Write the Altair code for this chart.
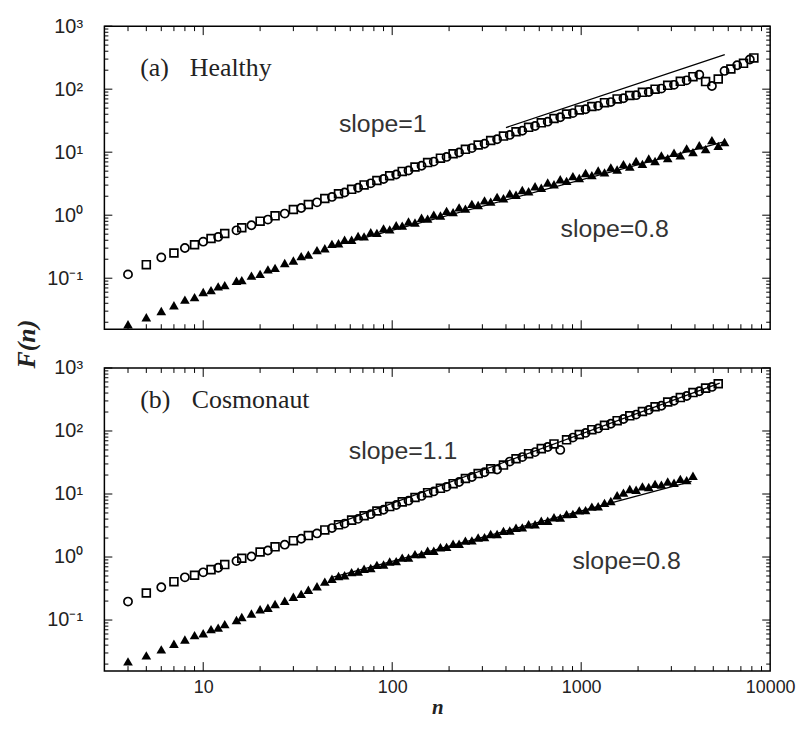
import altair as alt
import pandas as pd

# ---------------- data ----------------
n_grid = [4, 5, 6, 7, 8, 9, 10, 11, 12, 13,
          15, 16, 18, 20, 22, 24, 27, 30, 33, 36,
          40, 44, 48, 52, 56, 61, 66, 71, 77, 83,
          90, 97, 105, 113, 122, 132, 143, 154, 166, 180,
          194, 210, 226, 244, 264, 285, 308, 332, 359, 388,
          419, 452, 488, 527, 570, 615, 665, 718, 775, 837,
          904, 977, 1055, 1139, 1230, 1329, 1435, 1550, 1674, 1808,
          1953, 2109, 2278, 2460, 2657, 2870, 3099, 3347, 3615, 3904,
          4216, 4554, 4918, 5312, 5736, 6195, 6691, 7226, 7804, 8200]

healthy_open = [0.115, 0.164, 0.214, 0.251, 0.302, 0.339, 0.380, 0.427, 0.452, 0.513,
                0.575, 0.631, 0.692, 0.804, 0.851, 0.977, 1.06, 1.23, 1.30, 1.48,
                1.60, 1.84, 1.95, 2.19, 2.29, 2.57, 2.72, 3.02, 3.20, 3.55,
                3.76, 4.22, 4.42, 4.95, 5.13, 5.82, 6.10, 6.84, 7.08, 8.04,
                8.41, 9.44, 9.89, 11.1, 11.6, 13.0, 13.6, 15.3, 16.0, 18.0,
                18.8, 21.1, 21.9, 24.8, 26.0, 29.2, 30.5, 34.3, 35.9, 40.3,
                41.7, 46.8, 47.9, 53.1, 54.3, 61.0, 62.4, 70.0, 71.6, 79.4,
                80.4, 89.1, 90.2, 100, 102, 115, 117, 133, 138, 158,
                170, 132, 112, 145, 195, 209, 240, 257, 295, 313]

healthy_filled = [0.0186, 0.0240, 0.0302, 0.0372, 0.0457, 0.0501, 0.0603, 0.0646, 0.0741, 0.0776,
                  0.0912, 0.0933, 0.110, 0.117, 0.138, 0.146, 0.174, 0.191, 0.224, 0.237,
                  0.279, 0.299, 0.351, 0.359, 0.407, 0.407, 0.468, 0.462, 0.537, 0.525,
                  0.617, 0.596, 0.692, 0.684, 0.794, 0.767, 0.912, 0.881, 1.02, 0.989,
                  1.17, 1.12, 1.33, 1.27, 1.51, 1.45, 1.72, 1.64, 1.95, 1.86,
                  2.21, 2.11, 2.51, 2.40, 2.88, 2.72, 3.31, 3.09, 3.72, 3.51,
                  4.17, 3.89, 4.68, 4.32, 5.13, 4.79, 5.75, 5.31, 6.46, 5.89,
                  7.24, 6.53, 7.94, 7.24, 8.91, 8.04, 9.77, 8.91, 11.5, 10.0,
                  12.9, 11.2, 15.5, 12.6, 14.5]

cosmo_open = [0.196, 0.269, 0.331, 0.406, 0.476, 0.513, 0.571, 0.631, 0.676, 0.759,
              0.861, 0.955, 1.02, 1.20, 1.27, 1.45, 1.57, 1.82, 1.95, 2.19,
              2.37, 2.69, 2.88, 3.24, 3.39, 3.85, 4.03, 4.52, 4.79, 5.37,
              5.62, 6.31, 6.68, 7.50, 7.85, 8.81, 9.33, 10.5, 11.0, 12.3,
              13.0, 14.6, 15.5, 17.6, 18.6, 21.1, 22.1, 25.1, 24.5, 28.8,
              32.7, 36.3, 38.5, 43.7, 46.2, 52.5, 55.6, 62.4, 50.1, 72.4,
              78.5, 88.1, 93.3, 105, 110, 123, 130, 146, 155, 174,
              182, 204, 216, 243, 251, 288, 302, 339, 359, 407,
              427, 479, 501, 562]

cosmo_filled = [0.0221, 0.0275, 0.0342, 0.0421, 0.0492, 0.0575, 0.0617, 0.0716, 0.0759, 0.0861,
                0.100, 0.112, 0.127, 0.148, 0.157, 0.180, 0.202, 0.234, 0.260, 0.302,
                0.343, 0.407, 0.452, 0.501, 0.513, 0.575, 0.589, 0.653, 0.668, 0.750,
                0.759, 0.851, 0.861, 0.977, 0.977, 1.11, 1.11, 1.26, 1.26, 1.43,
                1.45, 1.62, 1.62, 1.82, 1.84, 2.04, 2.07, 2.32, 2.32, 2.60,
                2.63, 2.92, 2.95, 3.31, 3.31, 3.76, 3.76, 4.27, 4.22, 4.79,
                4.84, 5.50, 5.56, 6.31, 6.38, 7.24, 7.76, 9.55, 10.5, 12.0,
                11.7, 13.2, 12.9, 14.5, 14.1, 15.8, 15.1, 17.4, 16.6, 19.5]

# fitted power-law lines (end points)
healthy_fit1_n = [400, 5750]
healthy_fit1_F = [24.6, 353]
healthy_fit08_n = [48, 5750]
healthy_fit08_F = [0.321, 14.7]
cosmo_fit11_n = [50, 5410]
cosmo_fit11_F = [3.32, 573]
cosmo_fit08_n = [48, 3840]
cosmo_fit08_F = [0.476, 15.8]

x_major_ticks = [10, 100, 1000]
x_minor_ticks = [4, 5, 6, 7, 8, 9, 20, 30, 40, 50, 60, 70, 80, 90,
                 200, 300, 400, 500, 600, 700, 800, 900,
                 2000, 3000, 4000, 5000, 6000, 7000, 8000, 9000]
y_major_ticks = [0.1, 1, 10, 100, 1000]
y_minor_ticks = [0.02, 0.03, 0.04, 0.05, 0.06, 0.07, 0.08, 0.09,
                 0.2, 0.3, 0.4, 0.5, 0.6, 0.7, 0.8, 0.9,
                 2, 3, 4, 5, 6, 7, 8, 9,
                 20, 30, 40, 50, 60, 70, 80, 90,
                 200, 300, 400, 500, 600, 700, 800, 900]
x_label_values = [10, 100, 1000, 10000]

# ---------------- chart ----------------
W, H = 670, 305
xs = alt.Scale(type="log", domain=[3, 10000], nice=False)
ys = alt.Scale(type="log", domain=[0.0155, 1000], nice=False)

y_axis = alt.Axis(values=y_major_ticks, ticks=False, domain=False, grid=False,
                  labelExpr="datum.value >= 999 ? '10³' : datum.value >= 99 ? '10²' : "
                            "datum.value >= 9 ? '10¹' : datum.value >= 0.9 ? '10⁰' : '10⁻¹'",
                  labelFont="Liberation Sans", labelFontSize=20, labelColor="#222",
                  labelPadding=22, labelFlush=False, labelOverlap=False, title=None)

x_axis_b = alt.Axis(values=x_label_values, format="d", ticks=False, domain=False, grid=False,
                    labelFont="Liberation Sans", labelFontSize=18, labelColor="#222",
                    labelPadding=8, labelFlush=False, labelOverlap=False,
                    title="n", titleFont="Liberation Serif", titleFontStyle="italic",
                    titleFontWeight="bold", titleFontSize=21, titleColor="#222",
                    titlePadding=0)


def X(axis):
    return alt.X("n:Q", scale=xs, axis=axis)


def Y():
    return alt.Y("F:Q", scale=ys, axis=y_axis)


def tick_layers(xaxis):
    layers = []
    for vals, ln in ((x_minor_ticks, 5), (x_major_ticks, 9)):
        d = pd.DataFrame({"n": vals})
        layers.append(alt.Chart(d).mark_rule(color="black", strokeWidth=1)
                      .encode(x=X(xaxis), y=alt.value(H), y2=alt.value(H - ln)))
        layers.append(alt.Chart(d).mark_rule(color="black", strokeWidth=1)
                      .encode(x=X(xaxis), y=alt.value(0), y2=alt.value(ln)))
    for vals, ln in ((y_minor_ticks, 4), (y_major_ticks, 8)):
        d = pd.DataFrame({"F": vals})
        layers.append(alt.Chart(d).mark_rule(color="black", strokeWidth=1)
                      .encode(y=Y(), x=alt.value(0), x2=alt.value(ln)))
        layers.append(alt.Chart(d).mark_rule(color="black", strokeWidth=1)
                      .encode(y=Y(), x=alt.value(W), x2=alt.value(W - ln)))
    return layers


def label(text, x, y, font="Liberation Sans", size=25, color="#333", **kw):
    return alt.Chart(pd.DataFrame({"a": [0]})).mark_text(
        text=text, font=font, fontSize=size, color=color, align="left",
        baseline="middle", **kw).encode(x=alt.value(x), y=alt.value(y))


def panel(open_vals, filled_vals, fits, texts, xaxis, extra=None):
    d_open = pd.DataFrame({"n": n_grid[:len(open_vals)], "F": open_vals})
    d_open["k"] = range(len(d_open))
    d_fill = pd.DataFrame({"n": n_grid[:len(filled_vals)], "F": filled_vals})
    layers = tick_layers(xaxis)
    for fn, fF in fits:
        layers.append(alt.Chart(pd.DataFrame({"n": fn, "F": fF})).mark_line(
            color="black", strokeWidth=1.3).encode(x=X(xaxis), y=Y()))
    layers.append(alt.Chart(d_fill).mark_point(shape="triangle-up", filled=True,
                                               color="black", size=95, opacity=1)
                  .encode(x=X(xaxis), y=Y()))
    layers.append(alt.Chart(d_open).transform_filter("datum.k % 2 == 0")
                  .mark_point(shape="circle", filled=False, stroke="black",
                              strokeWidth=1.7, size=68, opacity=1)
                  .encode(x=X(xaxis), y=Y()))
    layers.append(alt.Chart(d_open).transform_filter("datum.k % 2 == 1")
                  .mark_point(shape="square", filled=False, stroke="black",
                              strokeWidth=1.7, size=62, opacity=1)
                  .encode(x=X(xaxis), y=Y()))
    layers += texts
    if extra is not None:
        layers += extra
    return alt.layer(*layers).properties(width=W, height=H)


serif = "Liberation Serif"
panel_a = panel(
    healthy_open, healthy_filled,
    [(healthy_fit1_n, healthy_fit1_F), (healthy_fit08_n, healthy_fit08_F)],
    [label("(a)", 36, 42, font=serif, size=26, color="#222"),
     label("Healthy", 86, 42, font=serif, size=26, color="#222"),
     label("slope=1", 236, 99),
     label("slope=0.8", 459, 204)],
    None,
    extra=[alt.Chart(pd.DataFrame({"a": [0]})).mark_text(
        text="F(n)", font=serif, fontSize=26, fontStyle="italic", fontWeight="bold",
        color="#222", angle=270, align="center", baseline="middle")
        .encode(x=alt.value(-78), y=alt.value(320))])

panel_b = panel(
    cosmo_open, cosmo_filled,
    [(cosmo_fit11_n, cosmo_fit11_F), (cosmo_fit08_n, cosmo_fit08_F)],
    [label("(b)", 36, 32, font=serif, size=26, color="#222"),
     label("Cosmonaut", 88, 32, font=serif, size=26, color="#222"),
     label("slope=1.1", 246, 84),
     label("slope=0.8", 471, 194)],
    x_axis_b)

chart = alt.vconcat(panel_a, panel_b, spacing=39, bounds="flush").configure_view(
    stroke="black", strokeWidth=1.5).properties(
    background="white", padding={"left": 5, "top": 5, "right": 0, "bottom": 0})

chart.save("out.html", embed_options={"renderer": "svg", "actions": False})
